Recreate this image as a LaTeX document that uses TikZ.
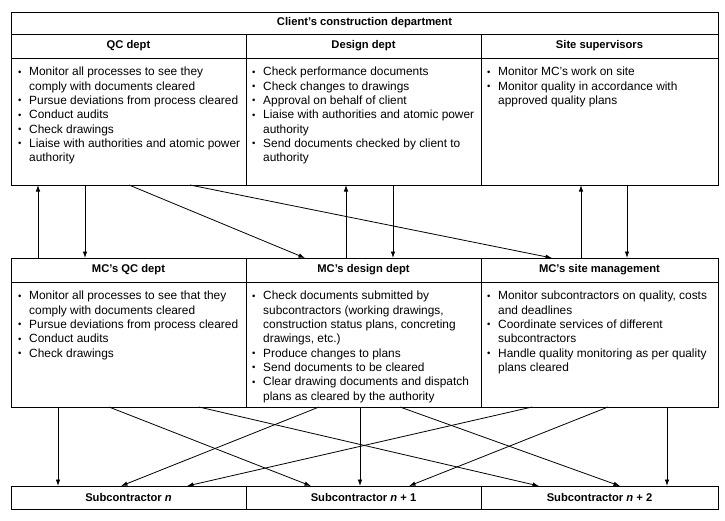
\documentclass[tikz,border=0pt]{standalone}
\usepackage{fontspec}
\setmainfont{Liberation Sans}
\usetikzlibrary{arrows.meta}
\newcommand\bul{\makebox[12pt][l]{\hspace{1pt}\raisebox{0.6pt}{\scalebox{0.8}{•}}}}
\newcommand\ind{\hspace*{12pt}}
\begin{document}
\begin{tikzpicture}[x=1pt,y=-1pt,
  box/.style={draw=black,line width=0.9pt,anchor=north west,inner sep=0pt,outer sep=0pt},
  head/.style={font=\fontsize{11.2}{13}\selectfont\bfseries},
  txt/.style={anchor=north west,inner sep=0pt,align=left,font=\fontsize{11.9}{14.33}\selectfont},
  arr/.style={line width=0.8pt,-{Latex[length=6.5pt,width=4.5pt]}}]
\useasboundingbox (0,0) rectangle (725,520);
% ---- client block
\node[box,minimum width=707pt,minimum height=22pt,head] (client) at (11,12) {Client's construction department};
\node[box,minimum width=235pt,minimum height=24pt,head] (qch) at (11,34) {QC dept};
\node[box,minimum width=235pt,minimum height=24pt,head] (desh) at (246,34) {Design dept};
\node[box,minimum width=237pt,minimum height=24pt,head] (siteh) at (481,34) {Site supervisors};
\node[box,minimum width=235pt,minimum height=127pt] (qc) at (11,58) {};
\node[box,minimum width=235pt,minimum height=127pt] (des) at (246,58) {};
\node[box,minimum width=237pt,minimum height=127pt] (site) at (481,58) {};
\node[txt] (qct) at ([xshift=6pt,yshift=-9pt]qc.north west) {\bul Monitor all processes to see they\\ \ind comply with documents cleared\\ \bul Pursue deviations from process cleared\\ \bul Conduct audits\\ \bul Check drawings\\ \bul Liaise with authorities and atomic power\\ \ind authority};
\node[txt] (dest) at ([xshift=5pt,yshift=-9pt]des.north west) {\bul Check performance documents\\ \bul Check changes to drawings\\ \bul Approval on behalf of client\\ \bul Liaise with authorities and atomic power\\ \ind authority\\ \bul Send documents checked by client to\\ \ind authority};
\node[txt] (sitet) at ([xshift=5pt,yshift=-9pt]site.north west) {\bul Monitor MC's work on site\\ \bul Monitor quality in accordance with\\ \ind approved quality plans};
% ---- MC block
\node[box,minimum width=235pt,minimum height=24pt,head] (mqch) at (11,258) {MC's QC dept};
\node[box,minimum width=235pt,minimum height=24pt,head] (mdesh) at (246,258) {MC's design dept};
\node[box,minimum width=237pt,minimum height=24pt,head] (msiteh) at (481,258) {MC's site management};
\node[box,minimum width=235pt,minimum height=125pt] (mqc) at (11,282) {};
\node[box,minimum width=235pt,minimum height=125pt] (mdes) at (246,282) {};
\node[box,minimum width=237pt,minimum height=125pt] (msite) at (481,282) {};
\node[txt] (mqct) at ([xshift=6pt,yshift=-9pt]mqc.north west) {\bul Monitor all processes to see that they\\ \ind comply with documents cleared\\ \bul Pursue deviations from process cleared\\ \bul Conduct audits\\ \bul Check drawings};
\node[txt] (mdest) at ([xshift=5pt,yshift=-9pt]mdes.north west) {\bul Check documents submitted by\\ \ind subcontractors (working drawings,\\ \ind construction status plans, concreting\\ \ind drawings, etc.)\\ \bul Produce changes to plans\\ \bul Send documents to be cleared\\ \bul Clear drawing documents and dispatch\\ \ind plans as cleared by the authority};
\node[txt] (msitet) at ([xshift=5pt,yshift=-9pt]msite.north west) {\bul Monitor subcontractors on quality, costs\\ \ind and deadlines\\ \bul Coordinate services of different\\ \ind subcontractors\\ \bul Handle quality monitoring as per quality\\ \ind plans cleared};
% ---- subcontractors
\node[box,minimum width=235pt,minimum height=23pt,head] (s1) at (11,486) {Subcontractor \textit{n}};
\node[box,minimum width=235pt,minimum height=23pt,head] (s2) at (246,486) {Subcontractor \textit{n} + 1};
\node[box,minimum width=237pt,minimum height=23pt,head] (s3) at (481,486) {Subcontractor \textit{n} + 2};
% ---- arrows client <-> MC
\draw[arr] ([xshift=27pt]mqch.north west) -- ([xshift=27pt]qc.south west);
\draw[arr] ([xshift=74pt]qc.south west) -- ([xshift=74pt]mqch.north west);
\draw[arr] ([xshift=118pt]qc.south west) -- ([xshift=59pt]mdesh.north west);
\draw[arr] ([xshift=179pt]qc.south west) -- ([xshift=71pt]msiteh.north west);
\draw[arr] ([xshift=100pt]mdesh.north west) -- ([xshift=100pt]des.south west);
\draw[arr] ([xshift=147pt]des.south west) -- ([xshift=147pt]mdesh.north west);
\draw[arr] ([xshift=100pt]msiteh.north west) -- ([xshift=100pt]site.south west);
\draw[arr] ([xshift=146pt]site.south west) -- ([xshift=146pt]msiteh.north west);
% ---- arrows MC -> subcontractors
\draw[arr] ([xshift=47pt]mqc.south west) -- ([xshift=47pt]s1.north west);
\draw[arr] ([xshift=98pt]mqc.south west) -- ([xshift=65pt]s2.north west);
\draw[arr] ([xshift=188pt]mqc.south west) -- ([xshift=58pt]s3.north west);
\draw[arr] ([xshift=73pt]mdes.south west) -- ([xshift=110pt]s1.north west);
\draw[arr] ([xshift=114pt]mdes.south west) -- ([xshift=114pt]s2.north west);
\draw[arr] ([xshift=154pt]mdes.south west) -- ([xshift=139pt]s3.north west);
\draw[arr] ([xshift=51pt]msite.south west) -- ([xshift=176pt]s1.north west);
\draw[arr] ([xshift=127pt]msite.south west) -- ([xshift=163pt]s2.north west);
\draw[arr] ([xshift=186pt]msite.south west) -- ([xshift=186pt]s3.north west);
\end{tikzpicture}
\end{document}
